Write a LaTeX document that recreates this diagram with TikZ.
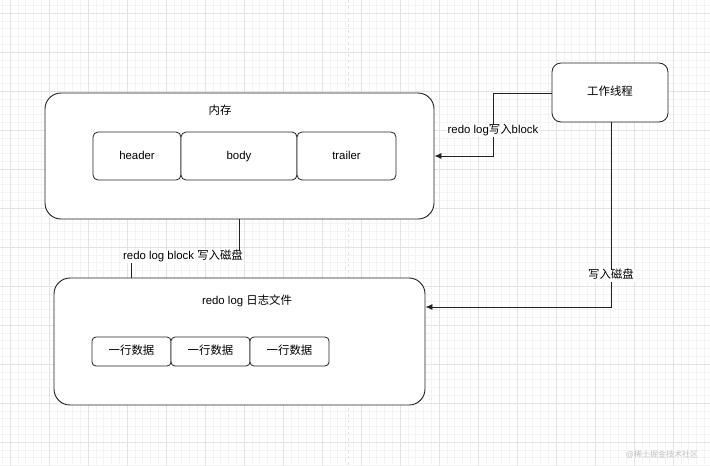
\documentclass[tikz,border=0pt]{standalone}
\usepackage{fontspec}
\setmainfont{Liberation Sans}
\newfontfamily\cjk{Noto Sans CJK SC}
\usetikzlibrary{arrows.meta}
\definecolor{gmajor}{HTML}{E3E3E3}
\definecolor{gminor}{HTML}{F3F3F3}
\definecolor{edgec}{HTML}{222222}
\tikzset{
  x=1pt, y=-1pt,
  bigbox/.style={draw=edgec, line width=0.9pt, rounded corners=16pt, fill=white, inner sep=0pt},
  smallbox/.style={draw=edgec, line width=0.8pt, rounded corners=5pt, fill=white, inner sep=0pt},
  lbl/.style={font=\fontsize{11.4}{14}\selectfont, inner sep=1pt, text height=8.2pt, text depth=2.3pt},
  elbl/.style={font=\fontsize{11.4}{14}\selectfont, fill=white, inner sep=1pt, text height=8.2pt, text depth=2.3pt},
  conn/.style={draw=edgec, line width=0.8pt},
  arr/.style={conn, -{Latex[length=7pt,width=6pt]}},
}
\begin{document}
\begin{tikzpicture}
\useasboundingbox (0,0) rectangle (710,466);
\fill[white] (0,0) rectangle (710,466);
% grid
\foreach \i in {0,...,91} {\draw[gminor, line width=0.4pt] ({2.2+\i*7.8},0) -- ({2.2+\i*7.8},466);}
\foreach \i in {0,...,60} {\draw[gminor, line width=0.4pt] (0,{5.2+\i*7.8}) -- (710,{5.2+\i*7.8});}
\foreach \i in {0,...,18} {\draw[gmajor, line width=0.6pt] ({10+\i*39},0) -- ({10+\i*39},466);}
\foreach \i in {0,...,12} {\draw[gmajor, line width=0.6pt] (0,{13+\i*39}) -- (710,{13+\i*39});}
\draw[gmajor, line width=0.8pt, dashed] (348,0) -- (348,466);

% memory box
\node[bigbox, minimum width=389pt, minimum height=126pt] (mem) at (239.5,156) {};
\node[lbl] (memt) at (220,112) {\cjk 内存};
\node[smallbox, minimum width=88pt, minimum height=48pt] (hdr) at (137,156) {};
\node[lbl] at ([yshift=-1pt]hdr.center) {header};
\node[smallbox, minimum width=116pt, minimum height=48pt] (body) at (239,156) {};
\node[lbl] at ([yshift=-1pt]body.center) {body};
\node[smallbox, minimum width=99pt, minimum height=48pt] (trl) at (346.5,156) {};
\node[lbl] at ([yshift=-1pt]trl.center) {trailer};

% worker thread
\node[smallbox, rounded corners=9pt, minimum width=116pt, minimum height=59pt] (wt) at (610,92.5) {};
\node[lbl] at (wt) {\cjk 工作线程};

% redo log file
\node[bigbox, minimum width=371pt, minimum height=127pt] (redo) at (239.5,341.5) {};
\node[lbl] at (247,302) {redo log {\cjk 日志文件}};
\node[smallbox, rounded corners=4pt, minimum width=79pt, minimum height=29pt] (r1) at (131.5,351.5) {};
\node[smallbox, rounded corners=4pt, minimum width=79pt, minimum height=29pt] (r2) at (210.5,351.5) {};
\node[smallbox, rounded corners=4pt, minimum width=79pt, minimum height=29pt] (r3) at (289.5,351.5) {};
\node[lbl] at (r1) {\cjk 一行数据};
\node[lbl] at (r2) {\cjk 一行数据};
\node[lbl] at (r3) {\cjk 一行数据};

% connectors
\coordinate (b1) at (493,93);
\coordinate (b2) at (493,156);
\draw[arr] (wt.west |- b1) -- (b1) -- (b2) -- (mem.east |- b2);
\node[elbl] at (493,131) {redo log{\cjk 写入}block};

\coordinate (d1) at (611,307);
\draw[arr] (wt.south -| d1) -- (d1) -- (redo.east |- d1);
\node[elbl] at (611,276) {\cjk 写入磁盘};

\coordinate (m1) at (239.5,257);
\coordinate (m2) at (131,257);
\draw[conn] (mem.south) -- (m1) -- (m2) -- (m2 |- redo.north);
\node[elbl] at (183,257) {redo log block {\cjk 写入磁盘}};

% watermark
\node[font=\fontsize{8}{9}\selectfont, text=black!25, inner sep=0pt] (wm) at (662,455) {@{\cjk 稀土掘金技术社区}};
\end{tikzpicture}
\end{document}
